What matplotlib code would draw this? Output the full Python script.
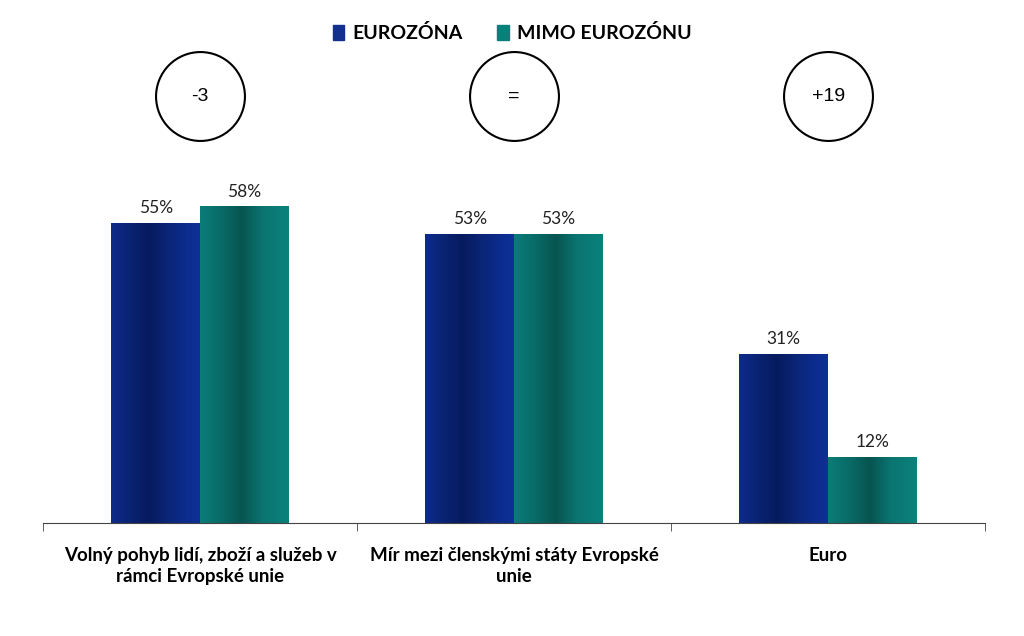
import numpy as np
import matplotlib
matplotlib.use("Agg")
import matplotlib.pyplot as plt
from matplotlib.colors import LinearSegmentedColormap
from matplotlib.patches import Patch

# Data
kategorie = ["Volný pohyb lidí, zboží a služeb v\nrámci Evropské unie",
             "Mír mezi členskými státy Evropské\nunie",
             "Euro"]
eurozona = [55, 53, 31]
mimo_eurozonu = [58, 53, 12]
rozdil = ["-3", "=", "+19"]
serie = ["EUROZÓNA", "MIMO EUROZÓNU"]

modra = "#13308f"
zelena = "#0b7f7a"
cmap_modra = LinearSegmentedColormap.from_list(
    "m", [(0, "#0d2b8c"), (0.2, "#0a2474"), (0.42, "#061a5e"), (0.65, "#0a2678"), (0.85, "#0c2c8e"), (1, "#0e3196")], N=256)
cmap_zelena = LinearSegmentedColormap.from_list(
    "z", [(0, "#0b7d78"), (0.25, "#096a66"), (0.47, "#075450"), (0.7, "#0a7470"), (1, "#0b827c")], N=256)

plt.rcParams['font.family'] = ['Lato', 'DejaVu Sans']

fig = plt.figure(figsize=(10.24, 6.36), dpi=100)
ax = fig.add_axes([0.042, 0.1777, 0.92, 0.6])

x = np.arange(len(kategorie))
w = 0.283
gradient = np.linspace(0, 1, 256).reshape(1, -1)

def kresli(pozice, hodnoty, cmap):
    for xi, h in zip(pozice, hodnoty):
        ax.imshow(gradient, cmap=cmap, aspect='auto',
                  extent=(xi - w / 2, xi + w / 2, 0, h), zorder=2)
        ax.text(xi, h + 1.3, f"{h}%", ha='center', va='bottom', fontsize=12.5, color='#222222')

kresli(x - w / 2, eurozona, cmap_modra)
kresli(x + w / 2, mimo_eurozonu, cmap_zelena)

ax.set_xlim(-0.5, 2.5)
ax.set_ylim(0, 70)

for s in ['top', 'right', 'left']:
    ax.spines[s].set_visible(False)
ax.spines['bottom'].set_color('#444444')
ax.set_yticks([])
ax.set_xticks(x)
ax.set_xticklabels(kategorie, fontsize=13.5, fontweight='bold', linespacing=1.35)
ax.tick_params(axis='x', which='major', length=0, pad=17)
ax.set_xticks([-0.5, 0.5, 1.5, 2.5], minor=True)
ax.tick_params(axis='x', which='minor', length=6, direction='out', color='#444444')

# kroužky s rozdílem
for xi, r in zip(x, rozdil):
    ax.plot(xi, 78.3, marker='o', markersize=64, markerfacecolor='white',
            markeredgecolor='black', markeredgewidth=1.5, clip_on=False)
    ax.text(xi, 78.3, r, ha='center', va='center', fontsize=14,
            family=['Liberation Sans', 'DejaVu Sans'])

handles = [Patch(color=modra), Patch(color=zelena)]
fig.legend(handles, serie, loc='upper center', bbox_to_anchor=(0.5, 0.99), ncol=2,
           frameon=False, handlelength=0.6, handleheight=0.8, handletextpad=0.4,
           columnspacing=1.8, prop={'weight': 'bold', 'size': 14})

fig.savefig("out.png", dpi=100)
